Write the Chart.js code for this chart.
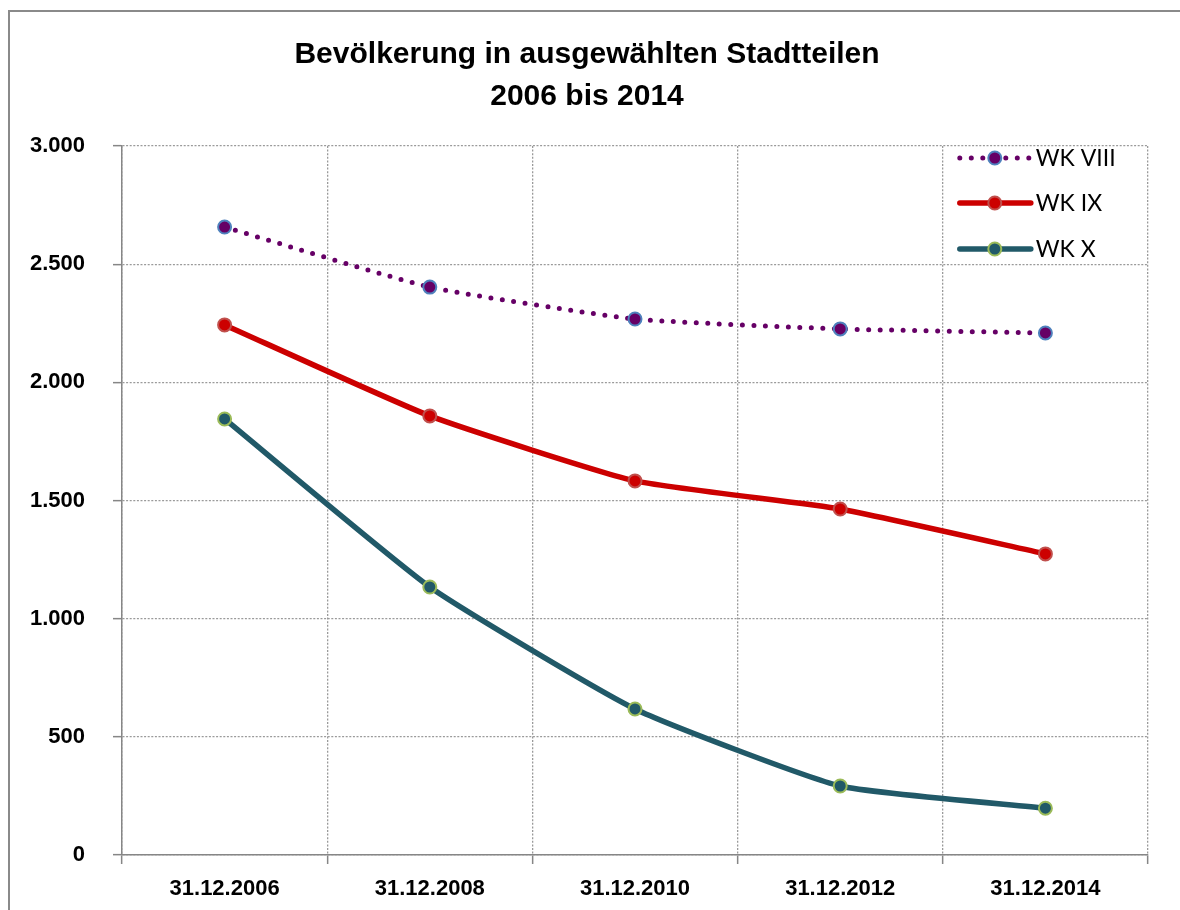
<!DOCTYPE html>
<html>
<head>
<meta charset="utf-8">
<script src="https://cdn.jsdelivr.net/npm/chart.js@4.4.1/dist/chart.umd.min.js"></script>
<style>
  html, body { margin: 0; padding: 0; background: #fff; overflow: hidden; }
  #wrap { position: relative; width: 1180px; height: 910px; }
  #rahmen { position: absolute; left: 8px; top: 10px; width: 1300px; height: 1000px;
            border-left: 2px solid #8a8a8a; border-top: 2px solid #8a8a8a; }
  canvas { position: absolute; left: 0; top: 0; }
</style>
</head>
<body>
<div id="wrap">
  <div id="rahmen"></div>
  <canvas id="bevoelkerung" width="1180" height="910"></canvas>
</div>
<script>
// Daten
const stichtage = ['31.12.2006', '31.12.2008', '31.12.2010', '31.12.2012', '31.12.2014'];
const wkVIII = [2657, 2403, 2268, 2226, 2209];
const wkIX = [2243, 1858, 1583, 1464, 1274];
const wkX = [1845, 1134, 618, 292, 198];
const yMin = 0;
const yMax = 3000;
const yStep = 500;

const schrift = "'Liberation Sans', Arial, sans-serif";
const schriftLegende = "Lato, 'Open Sans', sans-serif";

function formatZahl(v) {
  return v.toLocaleString('de-DE');
}

// Legende innerhalb der Zeichenfläche (oben rechts, weißer Kasten)
const legendeImDiagramm = {
  id: 'legendeImDiagramm',
  afterDraw(chart) {
    const { ctx, chartArea } = chart;
    const xs = chart.scales.x;
    const ys = chart.scales.y;
    const links = (xs.getPixelForValue(3) + xs.getPixelForValue(4)) / 2;
    const rechts = chartArea.right;
    const oben = chartArea.top;
    const unten = ys.getPixelForValue(2500);

    ctx.save();
    ctx.fillStyle = '#fff';
    ctx.fillRect(links + 1.5, oben + 1.5, rechts - links - 3, unten - oben - 3);

    const zeilen = [12, 57, 103];
    chart.data.datasets.forEach((ds, i) => {
      const y = oben + zeilen[i];
      ctx.beginPath();
      ctx.setLineDash(ds.borderDash || []);
      ctx.lineCap = 'round';
      ctx.lineWidth = ds.borderWidth;
      ctx.strokeStyle = ds.borderColor;
      ctx.moveTo(links + 17, y);
      ctx.lineTo(links + 88, y);
      ctx.stroke();
      ctx.setLineDash([]);

      ctx.beginPath();
      ctx.arc(links + 52, y, ds.pointRadius, 0, Math.PI * 2);
      ctx.fillStyle = ds.pointBackgroundColor;
      ctx.fill();
      ctx.lineWidth = ds.pointBorderWidth;
      ctx.strokeStyle = ds.pointBorderColor;
      ctx.stroke();

      ctx.fillStyle = '#000';
      ctx.font = '23px ' + schriftLegende;
      ctx.textBaseline = 'middle';
      ctx.textAlign = 'left';
      ctx.fillText(ds.label, links + 93, y + 1);
    });
    ctx.restore();
  }
};

const ctx = document.getElementById('bevoelkerung').getContext('2d');
new Chart(ctx, {
  type: 'line',
  data: {
    labels: stichtage,
    datasets: [
      {
        label: 'WK VIII',
        data: wkVIII,
        borderColor: '#660066',
        borderWidth: 5,
        borderDash: [0, 11.5],
        borderCapStyle: 'round',
        tension: 0.15,
        pointRadius: 6.5,
        pointBorderWidth: 2,
        pointBackgroundColor: '#660066',
        pointBorderColor: '#4f81bd'
      },
      {
        label: 'WK IX',
        data: wkIX,
        borderColor: '#cc0000',
        borderWidth: 5.5,
        tension: 0.15,
        pointRadius: 6.5,
        pointBorderWidth: 2,
        pointBackgroundColor: '#cc0000',
        pointBorderColor: '#c0504d'
      },
      {
        label: 'WK X',
        data: wkX,
        borderColor: '#215968',
        borderWidth: 5.5,
        tension: 0.15,
        pointRadius: 6.5,
        pointBorderWidth: 2,
        pointBackgroundColor: '#215968',
        pointBorderColor: '#9bbb59'
      }
    ]
  },
  options: {
    responsive: false,
    animation: false,
    layout: { padding: { top: 0, right: 32, bottom: 0, left: 26 } },
    plugins: {
      legend: { display: false },
      tooltip: { enabled: false },
      title: {
        display: true,
        text: ['Bevölkerung in ausgewählten Stadtteilen', '2006 bis 2014'],
        color: '#000',
        font: { family: schrift, size: 30, weight: 'bold', lineHeight: 1.4 },
        padding: { top: 34, bottom: 28 }
      }
    },
    scales: {
      x: {
        offset: true,
        grid: {
          offset: true,
          color: '#9a9a9a',
          lineWidth: 1.3,
          tickLength: 9,
          tickColor: '#868686',
          tickWidth: 1.5
        },
        border: { display: true, color: '#868686', width: 1.5, dash: [2, 1.6] },
        ticks: {
          color: '#000',
          padding: 12,
          font: { family: schrift, size: 22, weight: 'bold' }
        },
        afterFit(scale) { scale.height = 55; }
      },
      y: {
        min: yMin,
        max: yMax,
        grid: {
          color: '#9a9a9a',
          lineWidth: 1.3,
          tickLength: 9,
          tickColor: '#868686',
          tickWidth: 1.5
        },
        border: { display: true, color: '#868686', width: 1.5, dash: [2, 1.6] },
        ticks: {
          stepSize: yStep,
          color: '#000',
          padding: 28,
          font: { family: schrift, size: 22, weight: 'bold' },
          callback: v => formatZahl(v)
        },
        afterFit(scale) { scale.width = 96; }
      }
    }
  },
  plugins: [legendeImDiagramm]
});
</script>
</body>
</html>
